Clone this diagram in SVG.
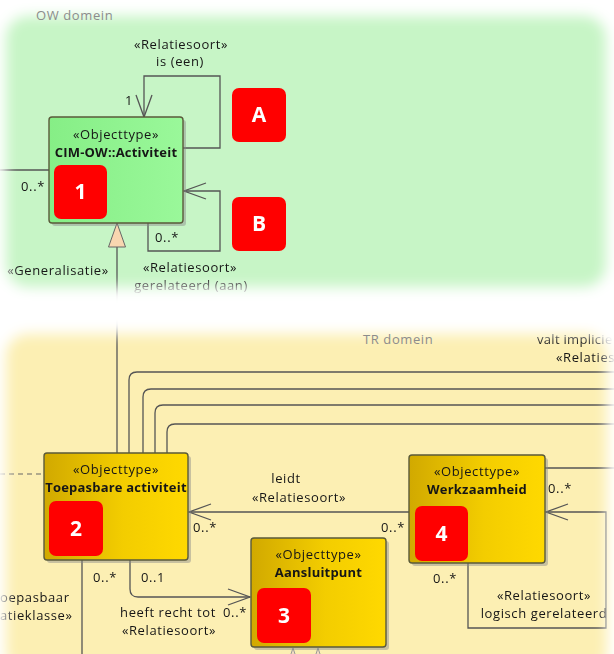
<svg xmlns="http://www.w3.org/2000/svg" width="614" height="654" viewBox="0 0 614 654">
  <style>
    text { font-family: "Open Sans", "Liberation Sans", sans-serif; font-size: 13px; fill: #161616; letter-spacing: 0.6px; }
    .c { text-anchor: middle; }
    .b { font-weight: bold; letter-spacing: 0.2px; }
    .title { fill: #8c8c8c; }
    .badge { font-family: "Open Sans", "Liberation Sans", sans-serif; font-weight: bold; font-size: 21px; fill: #fff; text-anchor: middle; letter-spacing: 0; }
    .line { fill: none; stroke: #555; stroke-width: 1.3; }
    .box { stroke: #5a5a3a; stroke-width: 1.4; }
    .shadow { fill: #8a8a8a; opacity: 0.45; }
    .red { fill: #ff0000; }
  </style>
  <defs>
    <linearGradient id="gold" x1="0" y1="0" x2="1" y2="0">
      <stop offset="0" stop-color="#d1a900"/>
      <stop offset="0.55" stop-color="#f3cd00"/>
      <stop offset="1" stop-color="#ffd900"/>
    </linearGradient>
    <linearGradient id="mint" x1="0" y1="0" x2="1" y2="0">
      <stop offset="0" stop-color="#86ee86"/>
      <stop offset="1" stop-color="#9af89a"/>
    </linearGradient>
    <filter id="soft" filterUnits="userSpaceOnUse" x="-60" y="-60" width="734" height="774">
      <feGaussianBlur stdDeviation="6.5"/>
    </filter>
    <!-- soft-edged panels -->
    <mask id="panels" maskUnits="userSpaceOnUse" x="0" y="0" width="614" height="654">
      <g filter="url(#soft)" fill="#fff">
        <rect x="6" y="16" width="600" height="271" rx="22"/>
        <rect x="6" y="334" width="601" height="340" rx="22"/>
      </g>
    </mask>
    <marker id="open" markerUnits="userSpaceOnUse" markerWidth="26" markerHeight="20" viewBox="0 0 26 20" refX="23" refY="10" orient="auto">
      <path d="M1,2 L23,10 L1,18" fill="none" stroke="#555" stroke-width="1.3"/>
    </marker>
  </defs>

  <g mask="url(#panels)">
    <!-- domain backgrounds -->
    <rect x="0" y="0" width="614" height="310" fill="#c7f5c6"/>
    <rect x="0" y="310" width="614" height="344" fill="#fcefb3"/>

    <g id="connectors">
      <!-- is (een) -->
      <path class="line" d="M183,148 H220 V76 H144 V117" marker-end="url(#open)"/>
      <!-- gerelateerd (aan) -->
      <path class="line" d="M148,223 V251 H220 V191 H184" marker-end="url(#open)"/>
      <path class="line" d="M0,170 H49"/>
      <!-- generalisation -->
      <path class="line" d="M117,247 V453"/>
      <polygon points="117,223 108.5,247 125.5,247" fill="#f8d6b0" stroke="#666" stroke-width="1"/>
      <!-- outgoing bundle to the right -->
      <path class="line" d="M129,453 V380 Q129,372 137,372 H614"/>
      <path class="line" d="M143,453 V397 Q143,389 151,389 H614"/>
      <path class="line" d="M155,453 V413 Q155,405 163,405 H614"/>
      <path class="line" d="M167,453 V432 Q167,424 175,424 H614"/>
      <path d="M0,474 H44" fill="none" stroke="#666" stroke-width="1.2" stroke-dasharray="5,4"/>
      <!-- leidt -->
      <path class="line" d="M409,512 H189" marker-end="url(#open)"/>
      <path class="line" d="M82,560 V654"/>
      <!-- heeft recht tot -->
      <path class="line" d="M130,560 V589 Q130,597 138,597 H250" marker-end="url(#open)"/>
      <path class="line" d="M545,468 H614"/>
      <!-- logisch gerelateerd -->
      <path class="line" d="M468,563 V628 H606 V512 H546" marker-end="url(#open)"/>
      <polygon points="293,648 285,672 301,672" fill="#f2dcc0" stroke="#999" stroke-width="1"/>
      <polygon points="318,648 310,672 326,672" fill="#f2dcc0" stroke="#999" stroke-width="1"/>
    </g>

    <!-- connector labels -->
    <g id="labels">
      <text class="c" x="181" y="49">«Relatiesoort»</text>
      <text class="c" x="180" y="66">is (een)</text>
      <text class="c" x="129" y="105">1</text>
      <text class="c" x="33" y="191">0..*</text>
      <text class="c" x="167" y="242">0..*</text>
      <text class="c" x="58" y="275">«Generalisatie»</text>
      <text class="c" x="190" y="272">«Relatiesoort»</text>
      <text class="c" x="191" y="290">gerelateerd (aan)</text>
      <text x="537" y="344" style="letter-spacing:0.3px">valt implicie</text>
      <text x="556" y="362">«Relaties</text>
      <text class="c" x="286" y="483">leidt</text>
      <text class="c" x="299" y="502">«Relatiesoort»</text>
      <text class="c" x="205" y="532">0..*</text>
      <text class="c" x="393" y="532">0..*</text>
      <text class="c" x="105" y="582">0..*</text>
      <text class="c" x="153" y="582">0..1</text>
      <text class="c" x="168" y="617">heeft recht tot</text>
      <text class="c" x="169" y="635">«Relatiesoort»</text>
      <text class="c" x="235" y="617">0..*</text>
      <text x="0" y="602">oepasbaar</text>
      <text x="0" y="620">atieklasse»</text>
      <text class="c" x="560" y="493">0..*</text>
      <text class="c" x="445" y="583">0..*</text>
      <text class="c" x="544" y="600">«Relatiesoort»</text>
      <text class="c" x="544" y="618">logisch gerelateerd</text>
    </g>

    <g id="activiteit">
      <rect class="shadow" x="52" y="120" width="134" height="106" rx="3"/>
      <rect class="box" x="49" y="117" width="134" height="106" rx="3" fill="url(#mint)"/>
      <text class="c" x="116" y="139">«Objecttype»</text>
      <text class="c b" x="116" y="157">CIM-OW::Activiteit</text>
    </g>

    <g id="toepasbare-activiteit">
      <rect class="shadow" x="47" y="456" width="144" height="107" rx="3"/>
      <rect class="box" x="44" y="453" width="144" height="107" rx="3" fill="url(#gold)"/>
      <text class="c" x="116" y="474">«Objecttype»</text>
      <text class="c b" x="116" y="492">Toepasbare activiteit</text>
    </g>

    <g id="aansluitpunt">
      <rect class="shadow" x="254" y="541" width="135" height="109" rx="3"/>
      <rect class="box" x="251" y="538" width="135" height="109" rx="3" fill="url(#gold)"/>
      <text class="c" x="318.5" y="559">«Objecttype»</text>
      <text class="c b" x="318.5" y="577">Aansluitpunt</text>
    </g>

    <g id="werkzaamheid">
      <rect class="shadow" x="412" y="458" width="136" height="108" rx="3"/>
      <rect class="box" x="409" y="455" width="136" height="108" rx="3" fill="url(#gold)"/>
      <text class="c" x="477" y="476">«Objecttype»</text>
      <text class="c b" x="477" y="494">Werkzaamheid</text>
    </g>

    <!-- numbered callouts -->
    <g id="badge-1"><rect class="red" x="54" y="165" width="53" height="54" rx="7"/><text class="badge" x="80.5" y="199">1</text></g>
    <g id="badge-A"><rect class="red" x="232" y="88" width="54" height="54" rx="7"/><text class="badge" x="259" y="122">A</text></g>
    <g id="badge-B"><rect class="red" x="232" y="197" width="54" height="54" rx="7"/><text class="badge" x="259" y="231">B</text></g>
    <g id="badge-2"><rect class="red" x="49" y="501" width="54" height="55" rx="7"/><text class="badge" x="76" y="536">2</text></g>
    <g id="badge-3"><rect class="red" x="257" y="588" width="54" height="55" rx="7"/><text class="badge" x="284" y="623">3</text></g>
    <g id="badge-4"><rect class="red" x="415" y="506" width="53" height="55" rx="7"/><text class="badge" x="441.5" y="541">4</text></g>
  </g>

  <!-- domain titles -->
  <text class="title" x="36" y="20">OW domein</text>
  <text class="title" x="363" y="344">TR domein</text>
</svg>
